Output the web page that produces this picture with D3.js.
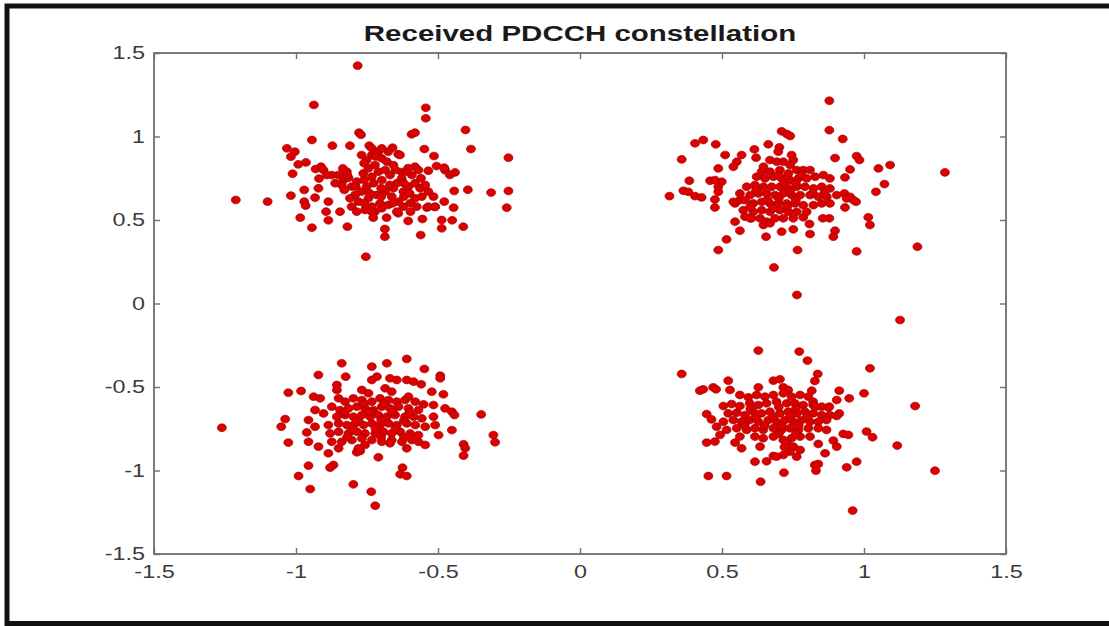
<!DOCTYPE html>
<html lang="en">
<head>
    <meta charset="utf-8">
    <title>Received PDCCH constellation</title>
    <script src="https://d3js.org/d3.v7.min.js" charset="utf-8"></script>
    <style>
        body { margin: 0; background: #fff; }
        svg { display: block; }
    </style>
</head>
<body>

    <script>

    // received symbols, one array per QPSK quadrant
    var quadTL = [
        [-0.783,1.424],[-0.937,1.189],[-0.543,1.172],[-0.543,1.109],[-0.403,1.039],[-0.778,1.023],[-0.771,1.010],
        [-0.593,1.013],[-0.581,1.023],[-0.944,0.979],[-0.384,0.925],[-0.252,0.873],[-1.032,0.929],[-1.004,0.909],
        [-1.018,0.879],[-0.872,0.945],[-0.810,0.945],[-0.742,0.945],[-0.660,0.933],[-0.548,0.925],[-0.640,0.894],
        [-0.514,0.883],[-0.992,0.833],[-0.965,0.845],[-1.012,0.777],[-0.931,0.805],[-0.912,0.819],[-0.919,0.748],
        [-0.971,0.680],[-0.921,0.690],[-1.018,0.646],[-0.971,0.610],[-0.966,0.586],[-0.933,0.634],[-1.212,0.620],
        [-1.100,0.610],[-0.985,0.514],[-0.944,0.454],[-0.886,0.610],[-0.894,0.550],[-0.886,0.498],[-0.845,0.550],
        [-0.819,0.460],[-0.754,0.280],[-0.687,0.446],[-0.687,0.400],[-0.605,0.494],[-0.561,0.410],[-0.555,0.506],
        [-0.487,0.500],[-0.450,0.498],[-0.487,0.450],[-0.411,0.460],[-0.445,0.574],[-0.478,0.610],[-0.539,0.574],
        [-0.511,0.578],[-0.443,0.674],[-0.395,0.681],[-0.313,0.664],[-0.252,0.674],[-0.258,0.574],[-0.475,0.798],
        [-0.440,0.785],[-0.458,0.770],[-0.505,0.823],[-0.478,0.813],[-0.534,0.795],[-0.581,0.819],[-0.605,0.811],
        [-0.628,0.787],[-0.597,0.550],[-0.640,0.540],[-0.722,0.550],[-0.698,0.570],[-0.681,0.514],[-0.728,0.514],
        [-0.835,0.809],[-0.821,0.789],[-0.851,0.769],[-0.833,0.739],[-0.815,0.753],[-0.804,0.700],[-0.839,0.710],
        [-0.862,0.720],[-0.874,0.769],[-0.903,0.799],[-0.892,0.769],[-0.769,0.889],[-0.751,0.859],[-0.733,0.889],
        [-0.710,0.909],[-0.698,0.869],[-0.680,0.849],[-0.722,0.829],[-0.745,0.809],[-0.763,0.779],[-0.733,0.759],
        [-0.710,0.789],[-0.686,0.799],[-0.669,0.769],[-0.698,0.739],[-0.727,0.720],[-0.751,0.700],[-0.769,0.670],
        [-0.792,0.650],[-0.810,0.630],[-0.780,0.610],[-0.745,0.630],[-0.716,0.650],[-0.686,0.670],[-0.657,0.690],
        [-0.645,0.720],[-0.663,0.640],[-0.639,0.610],[-0.675,0.590],[-0.704,0.600],[-0.733,0.580],[-0.757,0.560],
        [-0.622,0.670],[-0.604,0.700],[-0.581,0.720],[-0.563,0.690],[-0.545,0.710],[-0.534,0.670],[-0.557,0.640],
        [-0.581,0.630],[-0.598,0.600],[-0.622,0.580],[-0.575,0.580],[-0.534,0.580],[-0.510,0.580],[-0.516,0.640],
        [-0.786,0.730],[-0.804,0.580],[-0.786,0.550],[-0.733,0.550],[-0.645,0.550],[-0.592,0.769],[-0.569,0.799],
        [-0.610,0.789],[-0.628,0.749],[-0.657,0.829],[-0.634,0.889],[-0.675,0.909],[-0.698,0.929],[-0.733,0.929],
        [-0.820,0.770],[-0.790,0.700],[-0.760,0.740],[-0.700,0.690],[-0.670,0.710],[-0.740,0.660],[-0.700,0.640],
        [-0.620,0.640],[-0.600,0.660],[-0.660,0.600],[-0.760,0.600],[-0.830,0.680],[-0.720,0.880],[-0.650,0.800],
        [-0.560,0.750],[-0.620,0.720],[-0.760,0.840]
    ];

    var quadTR = [
        [0.878,1.214],[0.878,1.038],[0.925,0.985],[0.710,1.031],[0.728,1.015],[0.740,1.003],[0.405,0.959],
        [0.434,0.979],[0.478,0.953],[0.358,0.863],[0.511,0.889],[0.552,0.849],[0.569,0.889],[0.540,0.819],
        [0.614,0.923],[0.663,0.953],[0.702,0.935],[0.698,0.909],[0.620,0.873],[0.745,0.889],[0.751,0.859],
        [0.898,0.871],[0.974,0.883],[0.984,0.859],[1.051,0.809],[1.092,0.829],[1.285,0.785],[0.951,0.803],
        [0.933,0.755],[1.072,0.715],[1.042,0.669],[0.487,0.809],[0.385,0.735],[0.458,0.735],[0.475,0.739],
        [0.499,0.729],[0.315,0.643],[0.364,0.675],[0.381,0.669],[0.405,0.643],[0.428,0.635],[0.475,0.623],
        [0.487,0.669],[0.487,0.699],[0.475,0.575],[0.546,0.599],[0.563,0.619],[0.546,0.490],[0.563,0.436],
        [0.516,0.384],[0.487,0.320],[0.581,0.520],[0.604,0.510],[0.655,0.400],[0.683,0.216],[0.710,0.430],
        [0.751,0.444],[0.766,0.320],[0.786,0.516],[0.808,0.476],[0.810,0.416],[0.855,0.510],[0.878,0.510],
        [0.898,0.436],[0.892,0.400],[0.974,0.312],[1.015,0.516],[1.021,0.470],[1.188,0.340],[0.933,0.575],
        [0.972,0.609],[0.931,0.659],[0.951,0.639],[0.764,0.051],[1.127,-0.099],
        [0.669,0.859],[0.693,0.849],[0.716,0.849],[0.740,0.829],[0.646,0.819],[0.669,0.789],[0.704,0.799],
        [0.734,0.779],[0.763,0.799],[0.786,0.799],[0.810,0.799],[0.622,0.759],[0.651,0.749],[0.681,0.759],
        [0.710,0.749],[0.740,0.739],[0.769,0.749],[0.798,0.749],[0.828,0.759],[0.857,0.769],[0.880,0.749],
        [0.587,0.699],[0.616,0.709],[0.646,0.699],[0.675,0.699],[0.704,0.699],[0.734,0.689],[0.763,0.699],
        [0.792,0.699],[0.822,0.689],[0.851,0.699],[0.880,0.689],[0.563,0.659],[0.599,0.649],[0.628,0.659],
        [0.657,0.659],[0.687,0.649],[0.716,0.659],[0.745,0.649],[0.775,0.649],[0.810,0.649],[0.839,0.639],
        [0.869,0.639],[0.904,0.649],[0.939,0.629],[0.963,0.619],[0.540,0.609],[0.581,0.619],[0.610,0.599],
        [0.640,0.609],[0.669,0.599],[0.698,0.599],[0.728,0.599],[0.757,0.599],[0.786,0.589],[0.822,0.589],
        [0.851,0.599],[0.880,0.599],[0.575,0.559],[0.610,0.549],[0.640,0.559],[0.669,0.549],[0.704,0.559],
        [0.734,0.549],[0.763,0.549],[0.798,0.549],[0.599,0.510],[0.634,0.510],[0.657,0.490],[0.687,0.510],
        [0.716,0.510],[0.751,0.510],[0.646,0.470],[0.669,0.480],
        [0.640,0.790],[0.700,0.770],[0.760,0.720],[0.700,0.630],[0.760,0.620],[0.660,0.620],[0.620,0.680],
        [0.820,0.660],[0.740,0.670],[0.680,0.570],[0.730,0.580],[0.600,0.580],[0.860,0.660],[0.780,0.770],
        [0.720,0.720]
    ];

    var quadBL = [
        [-0.839,-0.358],[-0.733,-0.378],[-0.680,-0.358],[-0.610,-0.332],[-0.548,-0.392],[-0.921,-0.428],
        [-0.825,-0.438],[-0.492,-0.432],[-0.492,-0.448],[-0.715,-0.438],[-0.733,-0.458],[-0.669,-0.448],
        [-0.645,-0.458],[-0.610,-0.458],[-0.586,-0.468],[-0.559,-0.484],[-1.027,-0.534],[-0.982,-0.524],
        [-0.938,-0.558],[-0.915,-0.568],[-0.856,-0.488],[-0.856,-0.518],[-0.768,-0.518],[-0.745,-0.538],
        [-0.686,-0.508],[-0.663,-0.528],[-0.522,-0.528],[-0.481,-0.544],[-0.604,-0.558],[-1.038,-0.692],
        [-1.052,-0.738],[-1.261,-0.744],[-1.027,-0.833],[-0.956,-0.828],[-0.962,-0.772],[-0.933,-0.738],
        [-0.956,-0.698],[-0.933,-0.638],[-0.903,-0.658],[-0.475,-0.628],[-0.451,-0.648],[-0.442,-0.668],
        [-0.348,-0.664],[-0.451,-0.758],[-0.510,-0.728],[-0.498,-0.788],[-0.305,-0.788],[-0.299,-0.831],
        [-0.410,-0.843],[-0.404,-0.867],[-0.410,-0.911],[-0.545,-0.847],[-0.569,-0.828],[-0.610,-0.867],
        [-0.710,-0.921],[-0.774,-0.883],[-0.786,-0.891],[-0.886,-0.897],[-0.921,-0.857],[-0.868,-0.967],
        [-0.880,-0.983],[-0.956,-0.971],[-0.991,-1.033],[-0.950,-1.111],[-0.798,-1.083],[-0.735,-1.127],
        [-0.721,-1.211],[-0.625,-0.983],[-0.633,-1.023],[-0.610,-1.033],
        [-0.850,-0.568],[-0.827,-0.588],[-0.798,-0.568],[-0.768,-0.578],[-0.733,-0.588],[-0.704,-0.568],
        [-0.674,-0.578],[-0.645,-0.588],[-0.616,-0.578],[-0.580,-0.588],[-0.551,-0.604],[-0.874,-0.618],
        [-0.845,-0.638],[-0.815,-0.628],[-0.786,-0.618],[-0.757,-0.628],[-0.727,-0.638],[-0.698,-0.618],
        [-0.669,-0.628],[-0.639,-0.618],[-0.604,-0.628],[-0.569,-0.638],[-0.516,-0.608],[-0.856,-0.678],
        [-0.827,-0.668],[-0.798,-0.678],[-0.768,-0.668],[-0.739,-0.678],[-0.710,-0.668],[-0.680,-0.678],
        [-0.651,-0.668],[-0.616,-0.678],[-0.586,-0.678],[-0.557,-0.688],[-0.516,-0.678],[-0.886,-0.728],
        [-0.850,-0.718],[-0.821,-0.728],[-0.792,-0.718],[-0.762,-0.728],[-0.733,-0.718],[-0.704,-0.728],
        [-0.674,-0.718],[-0.645,-0.728],[-0.610,-0.718],[-0.580,-0.728],[-0.545,-0.738],[-0.880,-0.778],
        [-0.850,-0.768],[-0.815,-0.778],[-0.786,-0.768],[-0.757,-0.778],[-0.721,-0.778],[-0.692,-0.768],
        [-0.663,-0.778],[-0.633,-0.768],[-0.598,-0.778],[-0.569,-0.788],[-0.874,-0.828],[-0.839,-0.828],
        [-0.803,-0.818],[-0.768,-0.808],[-0.733,-0.818],[-0.698,-0.828],[-0.663,-0.818],[-0.627,-0.828],
        [-0.592,-0.818],[-0.850,-0.867],[-0.780,-0.867],[-0.757,-0.847],[-0.669,-0.837],
        [-0.830,-0.650],[-0.780,-0.700],[-0.740,-0.650],[-0.700,-0.700],[-0.660,-0.650],[-0.620,-0.700],
        [-0.800,-0.750],[-0.720,-0.750],[-0.650,-0.750],[-0.600,-0.650],[-0.760,-0.600],[-0.690,-0.600],
        [-0.820,-0.800],[-0.700,-0.800],[-0.620,-0.800]
    ];

    var quadBR = [
        [0.628,-0.282],[0.772,-0.288],[0.801,-0.342],[1.021,-0.388],[0.358,-0.422],[0.837,-0.422],
        [0.522,-0.462],[0.681,-0.462],[0.704,-0.454],[0.827,-0.464],[0.422,-0.522],[0.434,-0.514],[0.469,-0.502],
        [0.479,-0.514],[0.528,-0.518],[0.628,-0.502],[0.716,-0.502],[0.733,-0.518],[0.816,-0.522],[0.913,-0.522],
        [0.948,-0.568],[0.904,-0.578],[1.000,-0.538],[1.180,-0.614],[0.874,-0.622],[0.913,-0.658],[0.904,-0.674],
        [0.446,-0.662],[0.463,-0.694],[0.481,-0.738],[0.493,-0.787],[0.446,-0.833],[0.475,-0.827],[0.546,-0.833],
        [0.569,-0.867],[1.009,-0.767],[1.030,-0.801],[0.927,-0.781],[0.945,-0.787],[0.892,-0.821],[0.904,-0.857],
        [1.117,-0.851],[0.839,-0.841],[0.863,-0.897],[0.974,-0.947],[0.939,-0.981],[0.827,-0.967],[0.839,-0.961],
        [0.831,-1.001],[0.718,-1.013],[0.616,-0.947],[0.657,-0.945],[0.636,-1.067],[0.452,-1.033],[0.516,-1.033],
        [1.250,-1.001],[0.960,-1.240],[0.681,-0.913],[0.716,-0.907],
        [0.563,-0.548],[0.593,-0.562],[0.622,-0.548],[0.651,-0.558],[0.681,-0.548],[0.716,-0.538],[0.745,-0.558],
        [0.775,-0.548],[0.804,-0.558],[0.821,-0.588],[0.505,-0.614],[0.534,-0.602],[0.563,-0.614],[0.598,-0.598],
        [0.628,-0.608],[0.657,-0.598],[0.692,-0.588],[0.728,-0.598],[0.757,-0.598],[0.786,-0.608],[0.821,-0.608],
        [0.851,-0.618],[0.878,-0.618],[0.522,-0.658],[0.552,-0.654],[0.581,-0.668],[0.610,-0.648],[0.639,-0.658],
        [0.669,-0.648],[0.704,-0.658],[0.733,-0.648],[0.763,-0.658],[0.792,-0.648],[0.821,-0.658],[0.851,-0.668],
        [0.880,-0.668],[0.505,-0.708],[0.540,-0.698],[0.569,-0.708],[0.598,-0.698],[0.628,-0.708],[0.663,-0.698],
        [0.692,-0.708],[0.722,-0.698],[0.751,-0.708],[0.780,-0.698],[0.810,-0.708],[0.839,-0.708],[0.868,-0.698],
        [0.516,-0.757],[0.552,-0.747],[0.587,-0.757],[0.616,-0.747],[0.645,-0.757],[0.681,-0.747],[0.710,-0.757],
        [0.739,-0.747],[0.769,-0.757],[0.804,-0.747],[0.839,-0.747],[0.868,-0.757],[0.563,-0.797],[0.616,-0.797],
        [0.645,-0.807],[0.681,-0.797],[0.716,-0.817],[0.745,-0.807],[0.775,-0.797],[0.810,-0.797],[0.634,-0.857],
        [0.728,-0.837],[0.751,-0.857],[0.775,-0.877],[0.739,-0.887],[0.692,-0.917],[0.763,-0.917],
        [0.620,-0.680],[0.680,-0.680],[0.740,-0.680],[0.800,-0.680],[0.650,-0.730],[0.710,-0.730],[0.770,-0.730],
        [0.600,-0.630],[0.700,-0.620],[0.760,-0.630],[0.700,-0.780],[0.760,-0.780],[0.720,-0.860],[0.580,-0.730],
        [0.830,-0.620]
    ];

    var xTicks = [-1.5, -1, -0.5, 0, 0.5, 1, 1.5];
    var yTicks = [-1.5, -1, -0.5, 0, 0.5, 1, 1.5];
    var titleText = "Received PDCCH constellation";

    var W = 1109, H = 626;
    var plotL = 154, plotR = 1006, plotT = 53, plotB = 554;
    var stretch = 1.3;   // the screenshot is widened horizontally

    var svg = d3.select("body").append("svg").attr("width", W).attr("height", H);

    svg.append("rect").attr("width", W).attr("height", H).attr("fill", "#fff");

    // black frame round the figure (open on the right, as in the screenshot)
    svg.append("path")
        .attr("d", "M1109,6 L7,6 L7,623.5 L1109,623.5")
        .attr("fill", "none").attr("stroke", "#111").attr("stroke-width", 5);

    var xScale = d3.scaleLinear().domain([-1.5, 1.5]).range([plotL, plotR]);
    var yScale = d3.scaleLinear().domain([-1.5, 1.5]).range([plotB, plotT]);

    var fmt = function(d) { return d3.format("")(d).replace("\u2212", "-"); };
    var axisCol = "#6e6e6e";
    var fontFam = "'Liberation Sans', Arial, sans-serif";

    // points first, axes box on top
    var allPts = quadTL.concat(quadTR, quadBL, quadBR);
    svg.append("g").selectAll("ellipse").data(allPts).join("ellipse")
        .attr("cx", function(d) { return xScale(d[0]); })
        .attr("cy", function(d) { return yScale(d[1]); })
        .attr("rx", 4.5)
        .attr("ry", 3.9)
        .attr("fill", "#dd0000")
        .attr("stroke", "#a00000")
        .attr("stroke-width", 0.7);

    function styleAxis(g, showLabels) {
        g.select(".domain").remove();
        g.selectAll(".tick line").attr("stroke", axisCol).attr("stroke-width", 1.4);
        g.selectAll(".tick text")
            .attr("fill", "#3c3c3c")
            .style("font-family", fontFam)
            .style("font-size", "18px")
            .style("display", showLabels ? null : "none");
    }

    svg.append("g").attr("transform", "translate(0," + plotB + ")")
        .call(d3.axisBottom(xScale).tickValues(xTicks).tickFormat(fmt).tickSize(-6).tickPadding(11))
        .call(styleAxis, true)
        .selectAll(".tick text").attr("transform", "scale(" + stretch + ",1)");
    svg.append("g").attr("transform", "translate(0," + plotT + ")")
        .call(d3.axisTop(xScale).tickValues(xTicks).tickSize(-6))
        .call(styleAxis, false);
    svg.append("g").attr("transform", "translate(" + plotL + ",0)")
        .call(d3.axisLeft(yScale).tickValues(yTicks).tickFormat(fmt).tickSize(-6))
        .call(styleAxis, true)
        .selectAll(".tick text")
        .attr("x", -9 / stretch)
        .attr("transform", "scale(" + stretch + ",1)");
    svg.append("g").attr("transform", "translate(" + plotR + ",0)")
        .call(d3.axisRight(yScale).tickValues(yTicks).tickSize(-6))
        .call(styleAxis, false);

    svg.append("rect")
        .attr("x", plotL).attr("y", plotT)
        .attr("width", plotR - plotL).attr("height", plotB - plotT)
        .attr("fill", "none").attr("stroke", axisCol).attr("stroke-width", 1.8);

    svg.append("g")
        .attr("transform", "translate(" + ((plotL + plotR) / 2) + ",41) scale(1.34,1)")
        .append("text")
        .attr("text-anchor", "middle")
        .style("font-family", fontFam)
        .style("font-size", "22px").style("font-weight", "bold")
        .attr("fill", "#1a1a1a")
        .text(titleText);

    </script>

</body>
</html>
